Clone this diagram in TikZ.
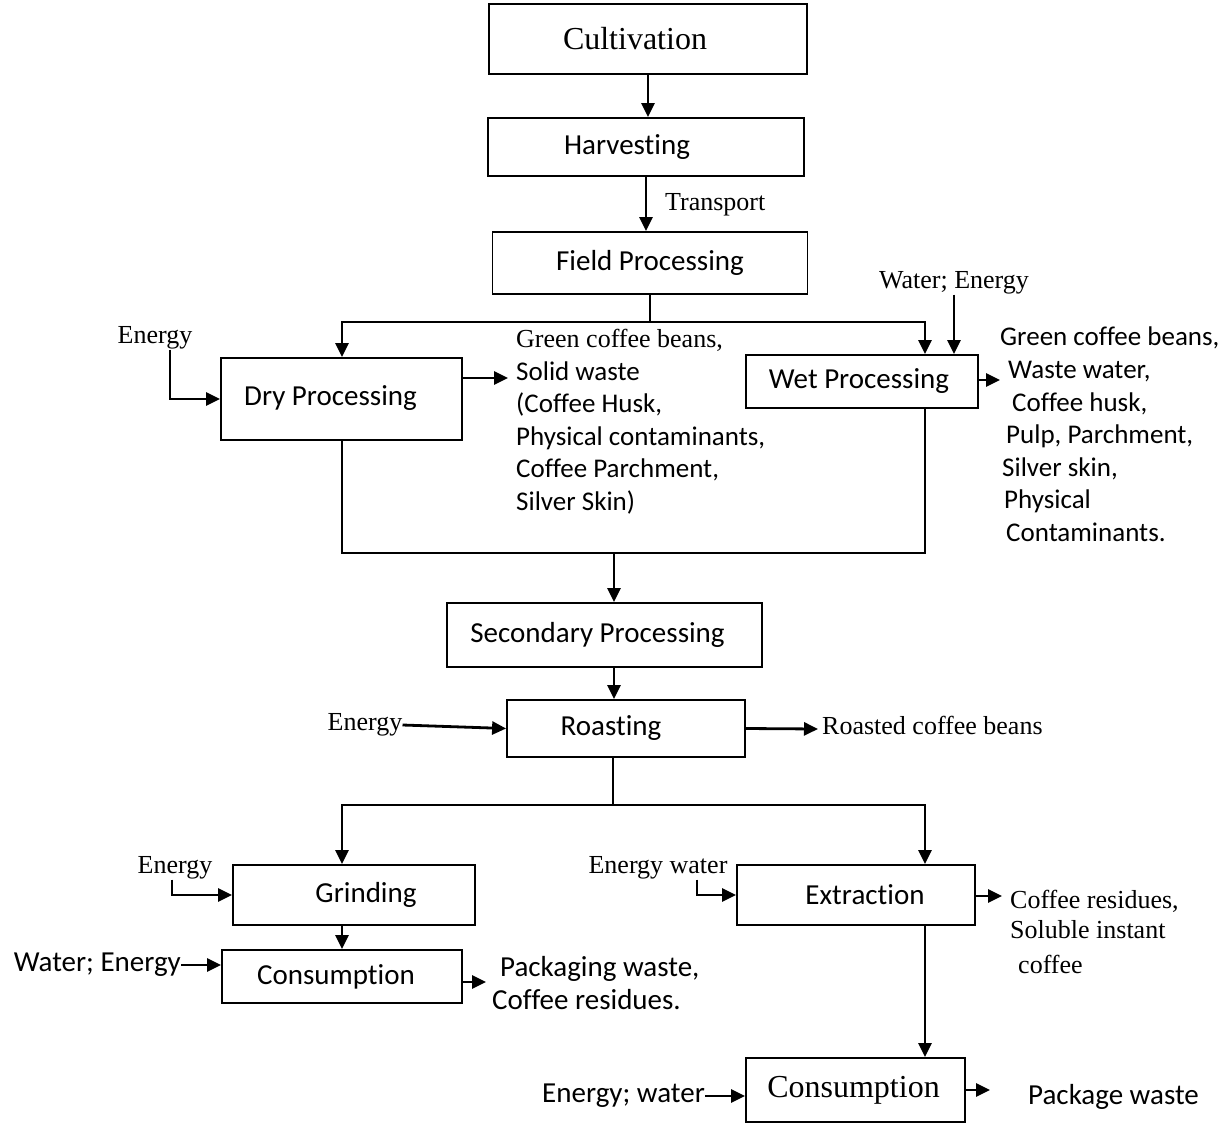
\documentclass[tikz,border=0pt]{standalone}
\usepackage{fontspec}
\setmainfont{Liberation Serif}
\newfontfamily\calibri[Ligatures=CommonOff]{Carlito}
\usetikzlibrary{arrows.meta}
\newcommand\boxfont{\calibri\fontsize{29}{33}\selectfont}
\newcommand\outfont{\calibri\fontsize{27}{32.6}\selectfont}
\newcommand\serfont{\rmfamily\fontsize{26}{32}\selectfont}
\newcommand\bigserfont{\rmfamily\fontsize{32}{38}\selectfont}

\begin{document}
\begin{tikzpicture}[
  x=1pt,y=-1pt,
  box/.style={draw,line width=1.8pt,inner sep=0pt,font=\boxfont},
  nudge/.style={execute at begin node={\hspace*{#1}}},
  flow/.style={-{Triangle[length=14pt,width=13pt]},line width=2.8pt},
  link/.style={line width=1.8pt},
  txt/.style={inner sep=0pt,font=\serfont},
  stxt/.style={inner sep=0pt,font=\boxfont},
  list/.style={inner sep=0pt,align=left,anchor=north west,font=\outfont}
]
  \useasboundingbox (0,0) rectangle (1229,1124);

  % Columns and branch points.
  \coordinate (lcol) at (342,0);
  \coordinate (ccol) at (614,0);
  \coordinate (rcol) at (925,0);
  \coordinate (fsplit) at (648,322);
  \coordinate (merge) at (614,553);
  \coordinate (rsplit) at (613,805);

  % Upper chain.
  \node[box,font=\bigserfont,nudge=-26pt,minimum width=318pt,minimum height=70pt] (cult) at (648,39) {Cultivation};
  \node[box,nudge=-38pt,minimum width=316pt,minimum height=58pt] (harv) at (646,147) {Harvesting};
  \node[box,minimum width=315pt,minimum height=62pt] (field) at (650,263) {Field Processing};
  \draw[flow] (cult.south) -- (cult.south |- harv.north);
  \draw[flow] (harv.south) -- (harv.south |- field.north);
  \node[txt,anchor=west] (trans) at (665,205) {Transport};

  % Dry and wet processing.
  \node[box,nudge=-22pt,minimum width=241pt,minimum height=82pt] (dry) at (341.5,399) {\raisebox{6pt}{Dry Processing}};
  \node[box,nudge=-6pt,minimum width=232pt,minimum height=53pt] (wet) at (862,381.5) {Wet Processing};
  \draw[flow] (field.south) |- (fsplit) -| (lcol |- dry.north);
  \draw[flow] (fsplit) -| (rcol |- wet.north);

  \node[txt] (enA) at (155,338) {Energy};
  \draw[flow] ([xshift=15pt]enA.south) |- (dry.west);
  \coordinate (dryo) at (508,378);
  \draw[flow] (dry.east |- dryo) -- (dryo);
  \node[list] (dryout) at (516,329) {{\serfont Green coffee beans,}\\Solid waste\\(Coffee Husk,\\Physical contaminants,\\Coffee Parchment,\\Silver Skin)};

  \node[txt] (weA) at (954,283) {Water; Energy};
  \draw[flow] (weA.south) -- (weA.south |- wet.north);
  \coordinate (weto) at (1000,380);
  \draw[flow] (wet.east |- weto) -- (weto);
  \node[list] (wetout) at (1000,327) {Green coffee beans,\\\hspace*{8pt}Waste water,\\\hspace*{12pt}Coffee husk,\\\hspace*{6pt}Pulp, Parchment,\\\hspace*{2pt}Silver skin,\\\hspace*{4pt}Physical\\\hspace*{6pt}Contaminants.};

  % Secondary processing and roasting.
  \draw[link] (lcol |- dry.south) |- (merge) -| (rcol |- wet.south);
  \node[box,nudge=-14pt,minimum width=315pt,minimum height=64pt] (sec) at (604.5,635) {Secondary Processing};
  \draw[flow] (merge) -- (merge |- sec.north);
  \node[box,nudge=-30pt,minimum width=238pt,minimum height=57pt] (roast) at (626,728.5) {Roasting};
  \draw[flow] (ccol |- sec.south) -- (ccol |- roast.north);
  \node[txt] (enR) at (365,725) {Energy};
  \draw[flow] (enR.east) -- (roast.west);
  \coordinate (roasto) at (818,729);
  \draw[flow] (roast.east) -- (roasto);
  \node[txt,anchor=west] (roastout) at (822,725) {Roasted coffee beans};

  % Grinding branch.
  \draw[link] (rsplit |- roast.south) -- (rsplit);
  \node[box,nudge=24pt,minimum width=242pt,minimum height=60pt] (grind) at (354,895) {Grinding};
  \node[box,nudge=-12pt,minimum width=240pt,minimum height=53pt] (consA) at (342,976.5) {Consumption};
  \draw[flow] (rsplit) -| (lcol |- grind.north);
  \draw[flow] (lcol |- grind.south) -- (consA.north);
  \node[txt] (enG) at (175,868) {Energy};
  \draw[flow] ([xshift=-3pt]enG.south) |- (grind.west);
  \node[stxt,anchor=east] (weB) at (181,965) {Water; Energy};
  \draw[flow] (weB.east) -- (weB.east -| consA.west);
  \coordinate (consAo) at (486,982);
  \draw[flow] (consA.east |- consAo) -- (consAo);
  \node[list,font=\boxfont] (consAout) at (492,956) {\hspace*{8pt}Packaging waste,\\Coffee residues.};

  % Extraction branch.
  \node[box,nudge=18pt,minimum width=238pt,minimum height=60pt] (extr) at (856,895) {Extraction};
  \node[box,font=\bigserfont,nudge=-4pt,minimum width=219pt,minimum height=64pt] (consB) at (855.5,1090) {Consumption};
  \draw[flow] (rsplit) -| (rcol |- extr.north);
  \draw[flow] (rcol |- extr.south) -- (rcol |- consB.north);
  \node[txt] (ewX) at (658,868) {Energy water};
  \draw[flow] ([xshift=39pt]ewX.south) |- (extr.west);
  \coordinate (extro) at (1002,896);
  \draw[flow] (extr.east |- extro) -- (extro);
  \node[list,font=\fontsize{26}{30}\selectfont] (extrout) at (1010,890) {Coffee residues,\\Soluble instant\\[5pt]\hspace*{8pt}coffee};
  \node[stxt,anchor=east] (ewB) at (705,1096) {Energy; water};
  \draw[flow] (ewB.east) -- (ewB.east -| consB.west);
  \coordinate (consBo) at (990,1090);
  \draw[flow] (consB.east) -- (consBo);
  \node[stxt,anchor=west] (consBout) at (1028,1097) {Package waste};
\end{tikzpicture}
\end{document}
